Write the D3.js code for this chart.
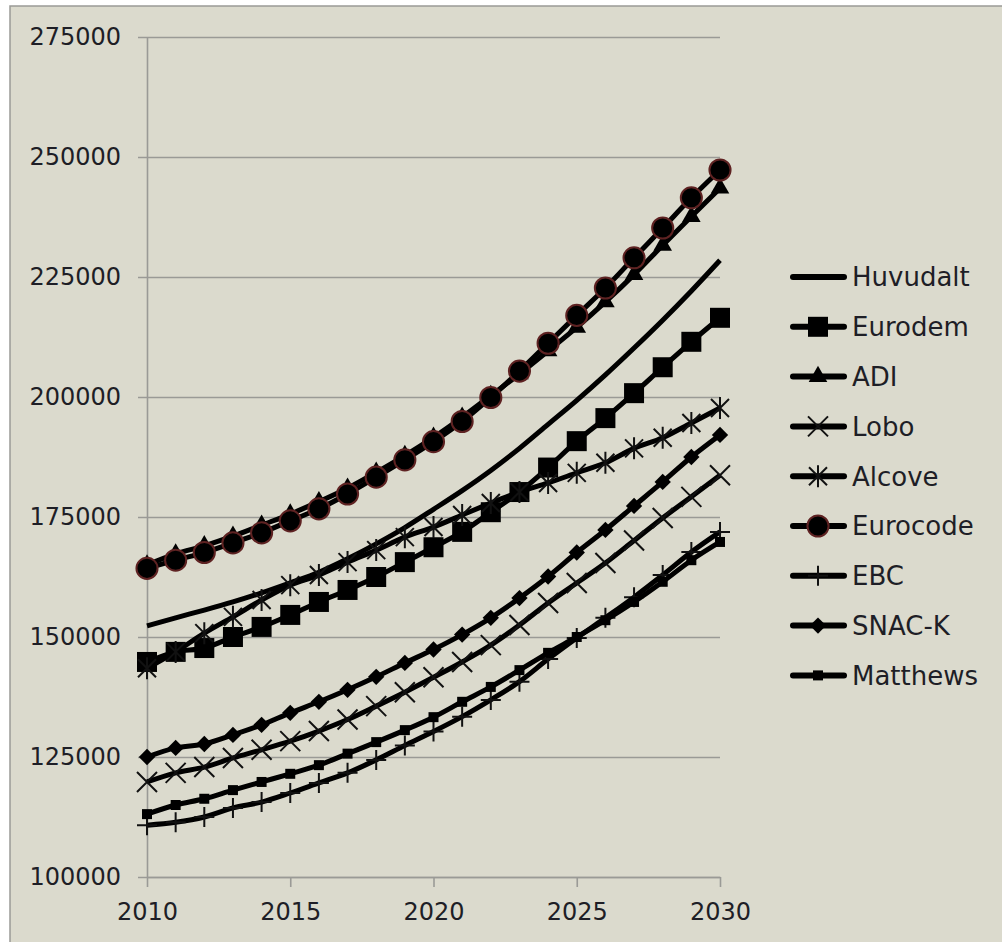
<!DOCTYPE html>
<html>
<head>
<meta charset="utf-8">
<script src="https://cdn.jsdelivr.net/npm/d3@7"></script>
<style>
  html, body { margin: 0; padding: 0; background: #fff; }
  svg { display: block; }
</style>
</head>
<body>
<svg id="chart" width="1002" height="942"></svg>
<script>
// Projected population per forecast model, 2010–2030.
const years = [2010, 2011, 2012, 2013, 2014, 2015, 2016, 2017, 2018, 2019, 2020,
               2021, 2022, 2023, 2024, 2025, 2026, 2027, 2028, 2029, 2030];
const yTicks = [100000, 125000, 150000, 175000, 200000, 225000, 250000, 275000];
const xTicks = [2010, 2015, 2020, 2025, 2030];

const huvudalt = [152300, 154000, 155600, 157300, 159200, 161300, 163500, 166300, 169400, 172800, 176600,
                  180500, 184700, 189300, 194300, 199300, 204600, 210200, 216000, 222100, 228500];
const eurodem  = [144800, 146900, 147700, 150000, 152100, 154600, 157300, 159800, 162500, 165600, 168700,
                  171900, 176000, 180200, 185300, 190800, 195600, 200800, 206200, 211500, 216500];
const adi      = [165000, 167300, 169000, 171000, 173300, 175600, 178200, 181000, 184300, 187800, 191600,
                  195800, 200300, 204800, 209600, 214500, 219800, 225500, 231600, 237600, 243500];
const lobo     = [119800, 121700, 122900, 124800, 126500, 128300, 130400, 132800, 135600, 138500, 141600,
                  144800, 148300, 152500, 157100, 161250, 165400, 170100, 174800, 179200, 183700];
const alcove   = [143500, 146900, 150800, 154200, 157700, 160800, 162900, 165600, 168100, 170800, 172900,
                  175400, 177900, 180200, 182100, 184200, 186300, 189300, 191500, 194600, 197700];
const eurocode = [164300, 166000, 167600, 169600, 171700, 174200, 176700, 179800, 183300, 186900, 190700,
                  194900, 199900, 205400, 211200, 217000, 222700, 229000, 235200, 241500, 247300];
const ebc      = [110800, 111400, 112500, 114400, 115600, 117500, 119600, 121700, 124400, 127400, 130300,
                  133400, 136900, 140700, 145400, 149800, 154000, 158300, 162900, 167700, 171900];
const snack    = [125000, 126900, 127700, 129600, 131700, 134200, 136500, 139000, 141700, 144600, 147400,
                  150500, 154000, 158100, 162600, 167600, 172300, 177300, 182300, 187500, 192100];
const matthews = [113100, 115000, 116300, 118100, 119800, 121500, 123300, 125700, 128100, 130600, 133300,
                  136500, 139600, 143100, 146700, 150000, 153500, 157300, 161500, 166000, 169800];

const seriesNames = ["Huvudalt", "Eurodem", "ADI", "Lobo", "Alcove", "Eurocode", "EBC", "SNAC-K", "Matthews"];
const seriesValues = [huvudalt, eurodem, adi, lobo, alcove, eurocode, ebc, snack, matthews];
const seriesMarkers = ["none", "square", "triangle", "x", "star", "circle", "plus", "diamond", "smallsquare"];

const BG = "#dbdacd", GRID = "#9a9a96", INK = "#000", TEXT = "#1e1e26";
const FONT = "'DejaVu Sans', sans-serif";

const svg = d3.select("#chart");
svg.append("rect").attr("x", 10).attr("y", 6).attr("width", 1100).attr("height", 1100)
  .attr("fill", BG).attr("stroke", GRID).attr("stroke-width", 1.5);

const plotLeft = 147, plotTop = 37, W = 573, H = 840;
const x = d3.scaleLinear().domain([2010, 2030]).range([0, W]);
const y = d3.scaleLinear().domain([100000, 275000]).range([H, 0]);

const g = svg.append("g").attr("transform", `translate(${plotLeft},${plotTop})`);

// y axis + gridlines
const gy = g.append("g").call(d3.axisLeft(y).tickValues(yTicks).tickSize(9).tickPadding(17).tickFormat(d3.format("d")));
gy.selectAll(".tick line").attr("x1", -9).attr("x2", W);
gy.selectAll("line, path").attr("stroke", GRID).attr("stroke-width", 1.6);
gy.select(".domain").attr("d", `M0.5,0V${H}`);
gy.selectAll("text").attr("font-family", FONT).attr("font-size", 24).attr("fill", TEXT);

// x axis
const gx = g.append("g").attr("transform", `translate(0,${H})`)
  .call(d3.axisBottom(x).tickValues(xTicks).tickSize(10).tickSizeOuter(0).tickFormat(d3.format("d")));
gx.selectAll("line, path").attr("stroke", GRID).attr("stroke-width", 1.6);
gx.selectAll("text").attr("font-family", FONT).attr("font-size", 24).attr("fill", TEXT)
  .attr("y", 43).attr("dy", 0);
gy.raise();

// marker shapes
function markerPath(kind) {
  switch (kind) {
    case "square": return d3.symbol(d3.symbolSquare, 400)();
    case "smallsquare": return d3.symbol(d3.symbolSquare, 100)();
    case "triangle": return d3.symbol(d3.symbolTriangle, 150)();
    case "diamond": return d3.symbol(d3.symbolDiamond2, 170)();
    case "circle": return d3.symbol(d3.symbolCircle, 350)();
    case "x": return "M-10,-10L10,10M-10,10L10,-10";
    case "star": return "M-9,-9L9,9M-9,9L9,-9M0,-11V11";
    case "plus": return "M-10,0H10M0,-10V10";
    default: return null;
  }
}
function styleMarker(sel, kind) {
  if (kind === "x" || kind === "star" || kind === "plus") {
    sel.attr("fill", "none").attr("stroke", "#111").attr("stroke-width", 2);
  } else if (kind === "circle") {
    sel.attr("fill", INK).attr("stroke", "#5e2222").attr("stroke-width", 2);
  } else {
    sel.attr("fill", INK);
  }
}

const line = d3.line().x((d, i) => x(years[i])).y((d) => y(d)).curve(d3.curveMonotoneX);

seriesValues.forEach((vals, si) => {
  const kind = seriesMarkers[si];
  const sg = g.append("g").attr("class", "series");
  sg.append("path").attr("d", line(vals)).attr("fill", "none")
    .attr("stroke", INK).attr("stroke-width", 5).attr("stroke-linejoin", "round");
  const mp = markerPath(kind);
  if (mp) {
    sg.selectAll("path.m").data(vals).join("path").attr("class", "m")
      .attr("d", mp)
      .attr("transform", (d, i) => `translate(${x(years[i])},${y(d)})`)
      .call(styleMarker, kind);
  }
});

// legend
const lg = svg.append("g").attr("transform", "translate(790,277)");
seriesNames.forEach((name, i) => {
  const kind = seriesMarkers[i];
  const row = lg.append("g").attr("transform", `translate(0,${i * 49.8})`);
  row.append("line").attr("x1", 3).attr("x2", 54).attr("stroke", INK)
    .attr("stroke-width", 6).attr("stroke-linecap", "round");
  const mp = markerPath(kind);
  if (mp) row.append("path").attr("d", mp).attr("transform", "translate(28,0)").call(styleMarker, kind);
  row.append("text").attr("x", 62).attr("dy", "0.36em").attr("font-family", FONT)
    .attr("font-size", 26).attr("fill", TEXT).text(name);
});
</script>
</body>
</html>
